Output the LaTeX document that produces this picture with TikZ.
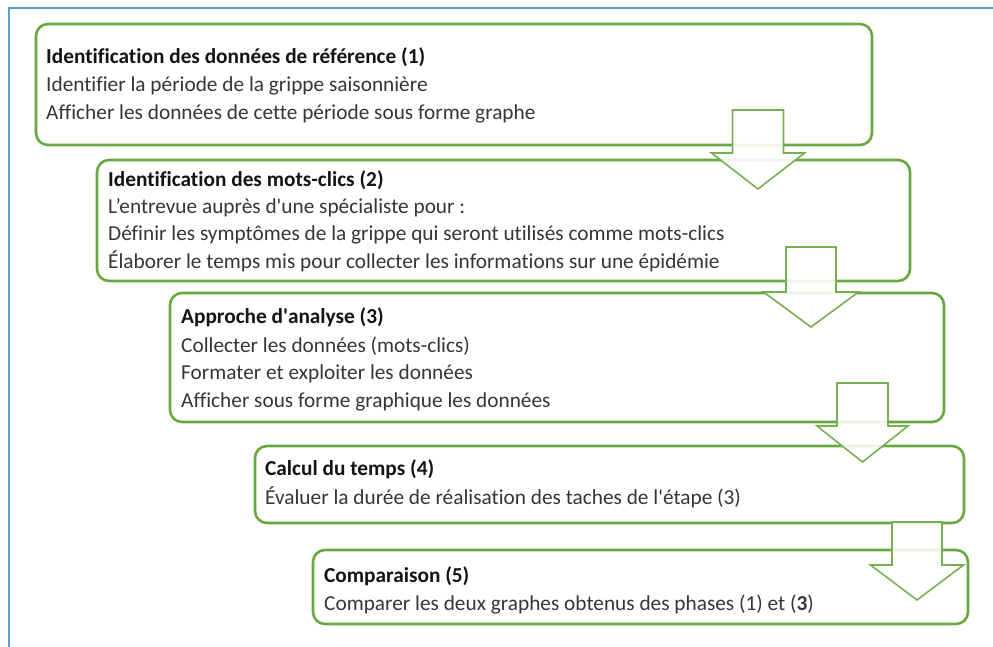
\documentclass[tikz,border=0pt]{standalone}
\usepackage{fontspec}
\setmainfont{Carlito}[Ligatures={NoCommon},RawFeature={-liga;-clig}]
\definecolor{boxgreen}{HTML}{67A83F}
\definecolor{arrgreen}{HTML}{74B153}
\definecolor{frameblue}{HTML}{5B9BD5}
\definecolor{txtgray}{HTML}{363636}
\newcommand{\blkarrow}[7]{%
  \draw[blockarrow] (#1-#5,#2) -- (#1+#5,#2) -- (#1+#5,#3) -- (#1+#6,#3)
    -- (#1,#4) -- (#1-#6,#3) -- (#1-#5,#3) -- cycle;
  \coordinate (#7) at (#1,#4);}
\newcommand{\apos}{\textquotesingle}
\begin{document}
\begin{tikzpicture}[x=1pt,y=-1pt,
  stepbox/.style={draw=boxgreen,line width=2.6pt,rounded corners=12pt,inner sep=0pt,fill=white},
  blockarrow/.style={draw=arrgreen,line width=1.6pt,fill=white,fill opacity=0.88,line join=miter},
  ttl/.style={anchor=base west,inner sep=0pt,font=\fontsize{21.3}{25}\selectfont\bfseries,text=black!92},
  txt/.style={anchor=base west,inner sep=0pt,font=\fontsize{21.3}{25}\selectfont,text=txtgray}]
\useasboundingbox (0,0) rectangle (993,646);
\fill[white] (0,0) rectangle (993,646);
\draw[frameblue,line width=1.6pt] (9,648) -- (9,8) -- (995,8);
% boxes
\node[stepbox,minimum width=836pt,minimum height=121pt] (b1) at (454,84.5) {};
\node[stepbox,minimum width=813pt,minimum height=121pt] (b2) at (503.5,220.5) {};
\node[stepbox,minimum width=774pt,minimum height=129pt] (b3) at (557,357.5) {};
\node[stepbox,minimum width=709pt,minimum height=77pt] (b4) at (609.5,484.5) {};
\node[stepbox,minimum width=655pt,minimum height=74pt] (b5) at (640.5,587) {};
% texts
\node[ttl] (t1) at (46,63) {Identification des données de référence (1)};
\node[txt] (t1a) at (46,91) {Identifier la période de la grippe saisonnière};
\node[txt] (t1b) at (46,119) {Afficher les données de cette période sous forme graphe};
\node[ttl] (t2) at (108,186.5) {Identification des mots-clics (2)};
\node[txt] (t2a) at (108,213.5) {L’entrevue auprès d\apos une spécialiste pour :};
\node[txt] (t2b) at (108,240.5) {Définir les symptômes de la grippe qui seront utilisés comme mots-clics};
\node[txt] (t2c) at (108,268.5) {Élaborer le temps mis pour collecter les informations sur une épidémie};
\node[ttl] (t3) at (181,323.5) {Approche d\apos analyse (3)};
\node[txt] (t3a) at (181,352.5) {Collecter les données (mots-clics)};
\node[txt] (t3b) at (181,379.5) {Formater et exploiter les données};
\node[txt] (t3c) at (181,407.5) {Afficher sous forme graphique les données};
\node[ttl] (t4) at (265,475.5) {Calcul du temps (4)};
\node[txt] (t4a) at (265,504.5) {Évaluer la durée de réalisation des taches de l\apos étape (3)};
\node[ttl] (t5) at (324,582.5) {Comparaison (5)};
\node[txt] (t5a) at (324,610.5) {Comparer les deux graphes obtenus des phases (1) et (\textbf{3})};
% block arrows
\blkarrow{758}{110}{153}{189}{25.5}{46.5}{a1}
\blkarrow{811}{247}{292}{327}{25}{47.5}{a2}
\blkarrow{862.5}{383}{426}{462}{25.5}{45.5}{a3}
\blkarrow{917}{522}{565}{600}{25}{46.5}{a4}
\end{tikzpicture}
\end{document}
